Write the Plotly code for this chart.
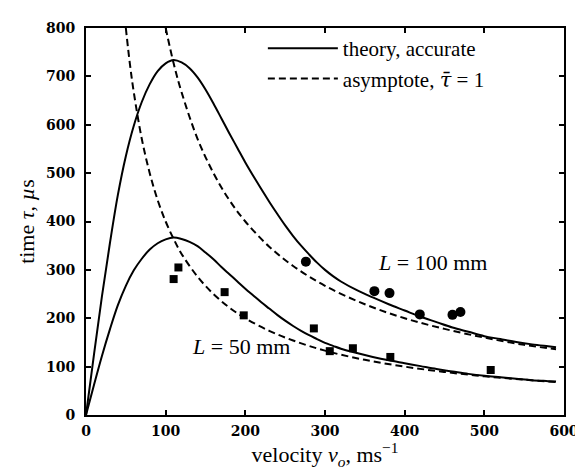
import plotly.graph_objects as go

# Theory, accurate (L = 100 mm)
v_th100 = [0, 10, 20, 30, 40, 50, 60, 70, 80, 90, 100, 110, 120, 130, 140, 150, 160, 170, 180, 190,
           200, 210, 220, 230, 240, 250, 260, 270, 280, 290, 300, 310, 320, 340, 360, 380, 400,
           420, 440, 460, 480, 500, 520, 540, 560, 580, 590]
tau_th100 = [0, 125, 245, 355, 455, 535, 598, 647, 684, 711, 727, 734, 729, 717, 698, 673, 644, 613, 582, 552,
             522, 494, 467, 441, 416, 392, 370, 350, 332, 315, 300, 287, 276, 258, 243, 229, 216,
             203, 192, 181, 172, 163, 157, 151, 146, 142, 140]
# Theory, accurate (L = 50 mm)
v_th50 = v_th100
tau_th50 = [0, 62, 122, 177, 227, 267, 299, 323, 342, 355, 363, 367, 364, 358, 349, 336, 322, 306, 291, 276,
            261, 247, 233, 220, 207, 195, 184, 174, 165, 157, 149, 143, 137, 128, 120, 113, 107,
            101, 95, 90, 85, 81, 78, 75, 72, 70, 69]

# Asymptote (tau_bar = 1)
v_as100 = [100, 110, 120, 140, 160, 180, 200, 230, 260, 300, 350, 400, 450, 500, 550, 590]
tau_as100 = [800, 727, 667, 571, 500, 444, 400, 348, 308, 267, 229, 200, 178, 160, 145, 136]
v_as50 = [50, 55, 60, 70, 80, 90, 100, 110, 120, 140, 160, 180, 200, 230, 260, 300, 350, 400, 450,
          500, 550, 590]
tau_as50 = [800, 727, 667, 571, 500, 444, 400, 364, 333, 286, 250, 222, 200, 174, 154, 133, 114, 100, 89,
            80, 73, 68]

# Experimental data
v_exp100 = [276, 362, 381, 419, 460, 470]
tau_exp100 = [317, 256, 252, 208, 207, 213]
v_exp50 = [110, 116, 174, 198, 286, 306, 335, 382, 508]
tau_exp50 = [281, 305, 254, 206, 179, 132, 138, 120, 93]

x_ticks = [0, 100, 200, 300, 400, 500, 600]
y_ticks = [0, 100, 200, 300, 400, 500, 600, 700, 800]

SERIF = "Liberation Serif, Times New Roman, Times, serif"

fig = go.Figure()
solid = dict(color="black", width=2)
dashed = dict(color="black", width=2, dash="7px,4px")

fig.add_trace(go.Scatter(x=v_th100, y=tau_th100, mode="lines", line=dict(**solid, shape="spline"),
                         name="theory, accurate", showlegend=True))
fig.add_trace(go.Scatter(x=v_as100, y=tau_as100, mode="lines", line=dict(**dashed, shape="spline"),
                         name="asymptote, <span style='font-family:DejaVu Serif;font-style:italic'>τ̄</span> = 1",
                         showlegend=True))
fig.add_trace(go.Scatter(x=v_th50, y=tau_th50, mode="lines", line=dict(**solid, shape="spline"),
                         showlegend=False))
fig.add_trace(go.Scatter(x=v_as50, y=tau_as50, mode="lines", line=dict(**dashed, shape="spline"),
                         showlegend=False))
fig.add_trace(go.Scatter(x=v_exp100, y=tau_exp100, mode="markers",
                         marker=dict(symbol="circle", size=10, color="black"), showlegend=False))
fig.add_trace(go.Scatter(x=v_exp50, y=tau_exp50, mode="markers",
                         marker=dict(symbol="square", size=8, color="black"), showlegend=False))

fig.add_annotation(x=435, y=316, text="<i>L</i> = 100 mm", showarrow=False,
                   font=dict(family=SERIF, size=22, color="black"))
fig.add_annotation(x=194, y=142, text="<i>L</i> = 50 mm", showarrow=False,
                   font=dict(family=SERIF, size=22, color="black"))

axis_common = dict(showline=True, linecolor="black", linewidth=2, mirror="ticks",
                   ticks="inside", ticklen=5, tickwidth=2, tickcolor="black",
                   showgrid=False, zeroline=False,
                   tickfont=dict(family="DejaVu Serif", size=14, color="black", weight="bold"))

fig.update_xaxes(range=[0, 600], tickvals=x_ticks, ticktext=[str(t) for t in x_ticks],
                 ticklabelstandoff=2,
                 title=dict(text="velocity <i>v<sub>o</sub></i>, ms<sup>−1</sup>",
                            font=dict(family=SERIF, size=22, color="black"), standoff=9),
                 **axis_common)
fig.update_yaxes(range=[0, 800], tickvals=y_ticks, ticktext=[str(t) for t in y_ticks],
                 ticklabelstandoff=6,
                 title=dict(text="time <i>τ</i>, <i>µ</i>s",
                            font=dict(family=SERIF, size=22, color="black"), standoff=5),
                 **axis_common)

fig.update_layout(
    width=583, height=469,
    margin=dict(l=78, r=15, t=15, b=62),
    plot_bgcolor="white", paper_bgcolor="white",
    font=dict(family=SERIF, color="black"),
    legend=dict(x=0.37, y=1.0, xanchor="left", yanchor="top", bgcolor="rgba(0,0,0,0)",
                font=dict(family=SERIF, size=21, color="black"),
                itemwidth=70, tracegroupgap=0),
)

fig.write_html("out.html")
